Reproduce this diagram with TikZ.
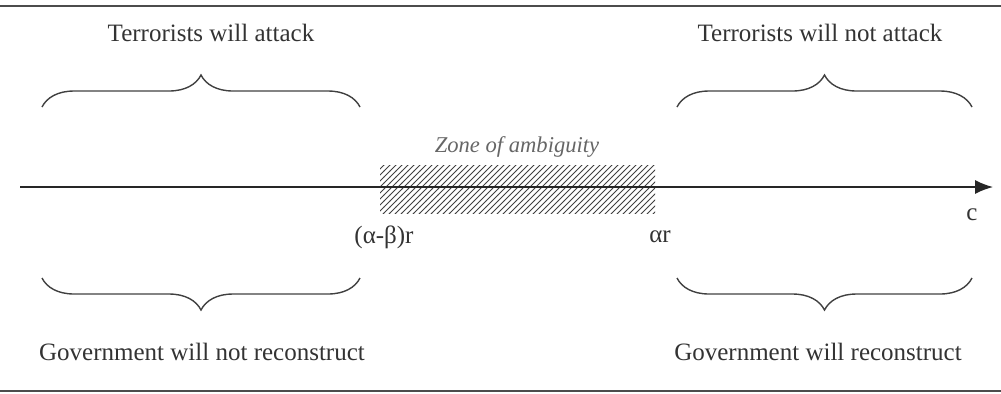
\documentclass[tikz,border=0pt]{standalone}
\usepackage{fontspec}
\setmainfont{Liberation Serif}
\usetikzlibrary{decorations.pathreplacing,patterns,arrows.meta}

\begin{document}
\begin{tikzpicture}[x=0.5pt, y=-0.5pt,
    every node/.style={text=black!80, font=\fontsize{12.5}{15}\selectfont, inner sep=0pt},
    brc/.style={decorate, decoration={brace, amplitude=16pt}, draw=black!75, line width=0.7pt},
    rule/.style={draw=black!70, line width=1.4pt}]
  \useasboundingbox (0,0) rectangle (1001,393);
  % frame rules
  \draw[rule] (0,6) -- (1001,6);
  \draw[rule] (0,391) -- (1001,391);

  % zone of ambiguity
  \fill[pattern=north east lines, pattern color=black!75] (380,165) rectangle (655,213);
  \node[text=black!60, font=\fontsize{11.3}{13}\selectfont\itshape] (zone) at (517,147) {Zone of ambiguity};

  % axis
  \coordinate (ax0) at (20,187);
  \coordinate (ax1) at (993,187);
  \draw[-{Latex[length=9pt,width=7pt]}, draw=black!85, line width=0.7pt] (ax0) -- (ax1);
  \node (c) at (972,215) {c};
  \node (lo) at (384,237) {(α-β)r};
  \node (hi) at (660,237) {αr};

  % braces
  \coordinate (tl0) at (42,107);  \coordinate (tl1) at (360,107);
  \coordinate (tr0) at (677,107); \coordinate (tr1) at (972,107);
  \coordinate (bl0) at (42,278);  \coordinate (bl1) at (360,278);
  \coordinate (br0) at (677,278); \coordinate (br1) at (972,278);
  \draw[brc] (tl0) -- (tl1);
  \draw[brc] (tr0) -- (tr1);
  \draw[brc] (bl1) -- (bl0);
  \draw[brc] (br1) -- (br0);

  \node (atk) at (211,33) {Terrorists will attack};
  \node (noatk) at (820,33) {Terrorists will not attack};
  \node (norec) at (202,352) {Government will not reconstruct};
  \node (rec) at (818,352) {Government will reconstruct};
\end{tikzpicture}
\end{document}
